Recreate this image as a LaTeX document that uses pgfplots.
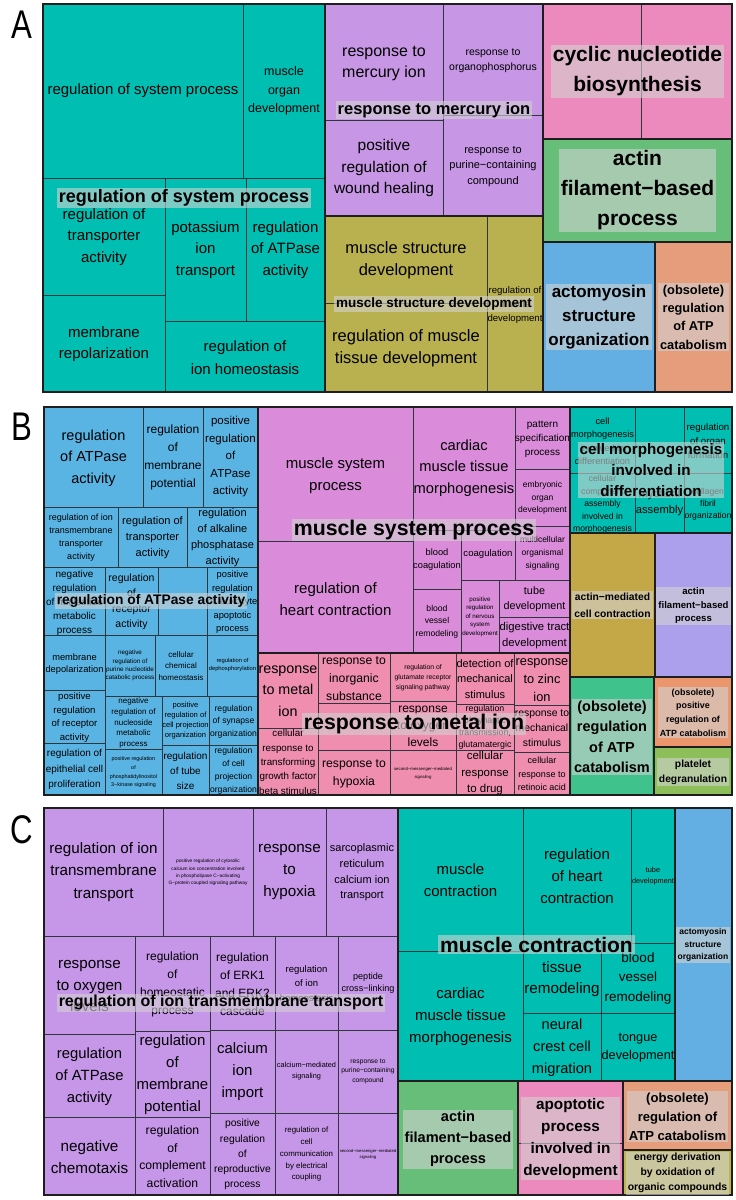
\documentclass[border=0pt]{standalone}
\usepackage{fontspec}
\setmainfont{Liberation Sans}
\usepackage{pgfplots}
\pgfplotsset{compat=1.18}
\definecolor{tA}{RGB}{0,191,178}
\definecolor{pA}{RGB}{199,151,230}
\definecolor{oA}{RGB}{185,176,80}
\definecolor{kA}{RGB}{237,138,189}
\definecolor{gA}{RGB}{102,190,120}
\definecolor{bA}{RGB}{99,175,227}
\definecolor{sA}{RGB}{229,157,124}
\definecolor{bB}{RGB}{90,180,227}
\definecolor{orB}{RGB}{218,140,218}
\definecolor{kB}{RGB}{239,142,174}
\definecolor{goB}{RGB}{196,168,72}
\definecolor{lvB}{RGB}{172,160,236}
\definecolor{gB}{RGB}{64,194,140}
\definecolor{sB}{RGB}{236,150,110}
\definecolor{lgB}{RGB}{140,190,90}
\definecolor{pC}{RGB}{198,150,232}
\definecolor{oC}{RGB}{190,180,80}
\definecolor{cellline}{RGB}{45,55,60}
\definecolor{grpline}{RGB}{30,30,30}
\definecolor{lblbg}{RGB}{210,210,210}
\newcommand{\cellR}[5]{\addplot[mark=none, fill=#5, draw=cellline, line width=0.6pt] coordinates {(#1,#2) (#3,#2) (#3,#4) (#1,#4) (#1,#2)};}
\newcommand{\cellT}[5]{\node[align=center, inner sep=0pt, text=black, font=\fontsize{#3}{#4}\selectfont] at (axis cs:#1,#2) {#5};}
\newcommand{\grpB}[4]{\addplot[mark=none, draw=grpline, line width=1.5pt, line cap=rect] coordinates {(#1,#2) (#3,#2) (#3,#4) (#1,#4) (#1,#2)};}
\newcommand{\grpL}[5]{\node[align=center, fill=lblbg, fill opacity=0.6, text opacity=1, text=black, inner xsep=2pt, inner ysep=1.5pt, font=\bfseries\fontsize{#3}{#4}\selectfont] at (axis cs:#1,#2) {#5};}
\begin{document}
\begin{tikzpicture}
\begin{axis}[scale only axis, width=736pt, height=1200pt, xmin=0, xmax=736, ymin=0, ymax=1200, y dir=reverse, hide axis, clip=false]
\addplot[mark=none, fill=white, draw=none] coordinates {(0,0) (736,0) (736,1200) (0,1200) (0,0)};
% ---------------- Panel A ----------------
\cellR{43}{4}{243}{178}{tA}
\cellR{243}{4}{325}{178}{tA}
\cellR{43}{178}{165}{295}{tA}
\cellR{43}{295}{165}{392}{tA}
\cellR{165}{178}{246}{321}{tA}
\cellR{246}{178}{325}{321}{tA}
\cellR{165}{321}{325}{392}{tA}
\cellR{325}{4}{443}{120}{pA}
\cellR{325}{120}{443}{216}{pA}
\cellR{443}{4}{543}{115}{pA}
\cellR{443}{115}{543}{216}{pA}
\cellR{325}{216}{487}{303}{oA}
\cellR{325}{303}{487}{392}{oA}
\cellR{487}{216}{543}{392}{oA}
\cellR{543}{4}{641}{139}{kA}
\cellR{641}{4}{732}{139}{kA}
\cellR{543}{139}{732}{242}{gA}
\cellR{543}{242}{655}{392}{bA}
\cellR{655}{242}{732}{392}{sA}
\cellT{143}{91}{15}{21.5}{regulation of system process}
\cellT{284}{91}{12.5}{18.5}{muscle\\organ\\development}
\cellT{104}{237}{15}{21.7}{regulation of\\transporter\\activity}
\cellT{104}{344}{15}{21.7}{membrane\\repolarization}
\cellT{205.5}{250}{15}{21.7}{potassium\\ion\\transport}
\cellT{285.5}{250}{15}{21.7}{regulation\\of ATPase\\activity}
\cellT{245}{357.5}{15}{23}{regulation of\\ion homeostasis}
\cellT{384}{63}{16}{21}{response to\\mercury ion}
\cellT{384}{168}{15.5}{21.7}{positive\\regulation of\\wound healing}
\cellT{493}{60.5}{10.5}{15}{response to\\organophosphorus}
\cellT{493}{166.5}{11}{15.5}{response to\\purine−containing\\compound}
\cellT{406}{260.5}{16.5}{22}{muscle structure\\development}
\cellT{406}{348.5}{16.5}{22}{regulation of muscle\\tissue development}
\cellT{515}{305}{9.6}{14}{regulation of\\muscle\\development}
\grpB{43}{4}{325}{392}
\grpB{325}{4}{543}{216}
\grpB{325}{216}{543}{392}
\grpB{543}{4}{732}{139}
\grpB{543}{139}{732}{242}
\grpB{543}{242}{655}{392}
\grpB{655}{242}{732}{392}
\grpL{184}{198}{18}{22}{regulation of system process}
\grpL{434}{110}{16.5}{20}{response to mercury ion}
\grpL{434}{304}{13.5}{16}{muscle structure development}
\grpL{637.5}{71.5}{21}{30}{cyclic nucleotide\\biosynthesis}
\grpL{637.5}{190.5}{21}{30}{actin\\filament−based\\process}
\grpL{599}{317}{17}{24}{actomyosin\\structure\\organization}
\grpL{693.5}{317}{12.8}{18.3}{(obsolete)\\regulation\\of ATP\\catabolism}
% ---------------- Panel B ----------------
\cellR{44}{407}{143}{507}{bB}
\cellR{143}{407}{203}{507}{bB}
\cellR{203}{407}{258}{507}{bB}
\cellR{44}{507}{118}{567}{bB}
\cellR{118}{507}{187}{567}{bB}
\cellR{187}{507}{258}{567}{bB}
\cellR{44}{567}{105}{635}{bB}
\cellR{105}{567}{158}{635}{bB}
\cellR{158}{567}{207}{635}{bB}
\cellR{207}{567}{258}{635}{bB}
\cellR{44}{635}{105}{690}{bB}
\cellR{105}{635}{155}{696}{bB}
\cellR{155}{635}{207}{696}{bB}
\cellR{207}{635}{258}{696}{bB}
\cellR{44}{690}{105}{743}{bB}
\cellR{44}{743}{105}{795}{bB}
\cellR{105}{696}{162}{749}{bB}
\cellR{105}{749}{162}{795}{bB}
\cellR{162}{696}{209}{745}{bB}
\cellR{162}{745}{209}{795}{bB}
\cellR{209}{696}{258}{745}{bB}
\cellR{209}{745}{258}{795}{bB}
\cellT{93.5}{458}{14.5}{21.7}{regulation\\of ATPase\\activity}
\cellT{173}{457.5}{12}{18}{regulation\\of\\membrane\\potential}
\cellT{230.5}{457}{11.5}{17.5}{positive\\regulation\\of\\ATPase\\activity}
\cellT{81}{538}{9}{13}{regulation of ion\\transmembrane\\transporter\\activity}
\cellT{152.5}{537.5}{11}{16}{regulation of\\transporter\\activity}
\cellT{222.5}{538}{11}{16}{regulation\\of alkaline\\phosphatase\\activity}
\cellT{74.5}{603}{10}{14}{negative\\regulation\\of nucleotide\\metabolic\\process}
\cellT{131.5}{602}{10.5}{15.5}{regulation\\of\\receptor\\activity}
\cellT{232.5}{602.5}{9.3}{13.5}{positive\\regulation\\of leukocyte\\apoptotic\\process}
\cellT{74.5}{664}{9.3}{12}{membrane\\depolarization}
\cellT{130}{665.5}{6.3}{8.1}{negative\\regulation of\\purine nucleotide\\catabolic process}
\cellT{181}{666}{8}{11.7}{cellular\\chemical\\homeostasis}
\cellT{232.5}{665}{5.8}{8}{regulation of\\dephosphorylation}
\cellT{74.5}{717.5}{9.6}{13.6}{positive\\regulation\\of receptor\\activity}
\cellT{74.5}{769.5}{10}{15.8}{regulation of\\epithelial cell\\proliferation}
\cellT{133.5}{723}{8}{10.9}{negative\\regulation of\\nucleoside\\metabolic\\process}
\cellT{133.5}{772.5}{5.4}{8.7}{positive regulation\\of\\phosphatidylinositol\\3−kinase signaling}
\cellT{185.5}{721}{7.6}{10}{positive\\regulation of\\cell projection\\organization}
\cellT{185.5}{771}{10}{15}{regulation\\of tube\\size}
\cellT{233.5}{721.5}{8.6}{12.5}{regulation\\of synapse\\organization}
\cellT{233.5}{771}{8.6}{12.9}{regulation\\of cell\\projection\\organization}
% orchid group
\cellR{258}{407}{413}{541}{orB}
\cellR{258}{541}{413}{653}{orB}
\cellR{413}{407}{515}{530}{orB}
\cellR{515}{407}{570}{469}{orB}
\cellR{515}{469}{570}{526}{orB}
\cellR{515}{526}{570}{580}{orB}
\cellR{461}{530}{515}{580}{orB}
\cellR{413}{530}{461}{589}{orB}
\cellR{413}{589}{461}{653}{orB}
\cellR{461}{580}{499}{653}{orB}
\cellR{499}{580}{570}{617}{orB}
\cellR{499}{617}{570}{653}{orB}
\cellT{335.5}{475.5}{15}{21.7}{muscle system\\process}
\cellT{335.5}{599}{15}{21.7}{regulation of\\heart contraction}
\cellT{464}{468}{14.7}{21.3}{cardiac\\muscle tissue\\morphogenesis}
\cellT{542.5}{439.5}{10}{14}{pattern\\specification\\process}
\cellT{542.5}{498}{8.5}{12.5}{embryonic\\organ\\development}
\cellT{542.5}{553.3}{8.5}{13}{multicellular\\organismal\\signaling}
\cellT{488}{554.5}{9.6}{12}{coagulation}
\cellT{437}{559.5}{9.3}{12.7}{blood\\coagulation}
\cellT{437}{621.5}{8.6}{12.3}{blood\\vessel\\remodeling}
\cellT{480}{616.5}{6.2}{8.5}{positive\\regulation\\of nervous\\system\\development}
\cellT{534.5}{598.8}{10.8}{15}{tube\\development}
\cellT{534.5}{635.5}{11.3}{15.7}{digestive tract\\development}
% pink group
\cellR{258}{653}{318}{728}{kB}
\cellR{258}{728}{318}{795}{kB}
\cellR{318}{653}{390}{703}{kB}
\cellR{318}{703}{390}{750}{kB}
\cellR{318}{750}{390}{795}{kB}
\cellR{390}{653}{456}{701}{kB}
\cellR{390}{701}{456}{750}{kB}
\cellR{390}{750}{456}{795}{kB}
\cellR{456}{653}{514}{704}{kB}
\cellR{456}{704}{514}{750}{kB}
\cellR{456}{750}{514}{795}{kB}
\cellR{514}{653}{570}{705}{kB}
\cellR{514}{705}{570}{752}{kB}
\cellR{514}{752}{570}{795}{kB}
\cellT{288}{691}{14.3}{21.3}{response\\to metal\\ion}
\cellT{288}{762}{9.8}{14.4}{cellular\\response to\\transforming\\growth factor\\beta stimulus}
\cellT{354}{678.5}{12.2}{17.8}{response to\\inorganic\\substance}
\cellT{354}{773.5}{12.2}{18.3}{response to\\hypoxia}
\cellT{423}{677.7}{6.8}{10}{regulation of\\glutamate receptor\\signaling pathway}
\cellT{423}{726}{12}{17}{response\\to oxygen\\levels}
\cellT{423}{773.3}{4.3}{8}{second−messenger−mediated\\signaling}
\cellT{485}{679}{11}{15.8}{detection of\\mechanical\\stimulus}
\cellT{485}{727.5}{8.8}{12.1}{regulation\\of synaptic\\transmission,\\glutamatergic}
\cellT{485}{773.3}{11.5}{16.7}{cellular\\response\\to drug}
\cellT{542}{680}{12.8}{18.3}{response\\to zinc\\ion}
\cellT{542}{728.3}{10.4}{15}{response to\\mechanical\\stimulus}
\cellT{542}{774}{9}{13.5}{cellular\\response to\\retinoic acid}
% teal group B
\cellR{570}{407}{635}{473}{tA}
\cellR{635}{407}{684}{473}{tA}
\cellR{684}{407}{732}{473}{tA}
\cellR{570}{473}{635}{533}{tA}
\cellR{635}{473}{684}{533}{tA}
\cellR{684}{473}{732}{533}{tA}
\cellT{602.5}{441}{9.2}{13.5}{cell\\morphogenesis\\involved in\\differentiation}
\cellT{708}{441}{9.7}{14}{regulation\\of organ\\formation}
\cellT{602.5}{504.5}{8.6}{12.5}{cellular\\component\\assembly\\involved in\\morphogenesis}
\cellT{659.5}{503}{11.2}{16}{myofibril\\assembly}
\cellT{708}{504.3}{8.6}{12}{collagen\\fibril\\organization}
% single-cell groups B
\cellR{570}{533}{655}{677}{goB}
\cellR{655}{533}{732}{677}{lvB}
\cellR{570}{677}{654}{795}{gB}
\cellR{654}{677}{732}{747}{sB}
\cellR{654}{747}{732}{795}{lgB}
\grpB{44}{407}{258}{795}
\grpB{258}{407}{570}{653}
\grpB{258}{653}{570}{795}
\grpB{570}{407}{732}{533}
\grpB{570}{533}{655}{677}
\grpB{655}{533}{732}{677}
\grpB{570}{677}{654}{795}
\grpB{654}{677}{732}{747}
\grpB{654}{747}{732}{795}
\grpL{151}{601}{13.8}{16}{regulation of ATPase activity}
\grpL{414}{530}{21.3}{24}{muscle system process}
\grpL{414}{724}{21.3}{24}{response to metal ion}
\grpL{651}{470}{15.2}{21.3}{cell morphogenesis\\involved in\\differentiation}
\grpL{612.5}{605}{10.3}{16.7}{actin−mediated\\cell contraction}
\grpL{693.5}{606}{9.6}{13.5}{actin\\filament−based\\process}
\grpL{612}{737}{14.5}{20.5}{(obsolete)\\regulation\\of ATP\\catabolism}
\grpL{693}{712.5}{8.9}{13.6}{(obsolete)\\positive\\regulation of\\ATP catabolism}
\grpL{693}{772}{10.3}{15.3}{platelet\\degranulation}
% ---------------- Panel C ----------------
\cellR{44}{808}{163}{936}{pC}
\cellR{163}{808}{253}{936}{pC}
\cellR{253}{808}{326}{936}{pC}
\cellR{326}{808}{398}{936}{pC}
\cellR{44}{936}{135}{1034}{pC}
\cellR{135}{936}{210}{1031}{pC}
\cellR{210}{936}{275}{1030}{pC}
\cellR{275}{936}{338}{1030}{pC}
\cellR{338}{936}{398}{1030}{pC}
\cellR{44}{1034}{135}{1117}{pC}
\cellR{135}{1031}{210}{1117}{pC}
\cellR{210}{1030}{275}{1113}{pC}
\cellR{275}{1030}{338}{1113}{pC}
\cellR{338}{1030}{398}{1113}{pC}
\cellR{44}{1117}{135}{1195}{pC}
\cellR{135}{1117}{210}{1195}{pC}
\cellR{210}{1113}{275}{1195}{pC}
\cellR{275}{1113}{338}{1195}{pC}
\cellR{338}{1113}{398}{1195}{pC}
\cellT{103.5}{872}{15.2}{22.2}{regulation of ion\\transmembrane\\transport}
\cellT{208}{872.5}{4.8}{7.2}{positive regulation of cytosolic\\calcium ion concentration involved\\in phospholipase C−activating\\G−protein coupled signaling pathway}
\cellT{289.5}{872}{15.2}{21.8}{response\\to\\hypoxia}
\cellT{362}{872.5}{11}{15.7}{sarcoplasmic\\reticulum\\calcium ion\\transport}
\cellT{89.5}{986}{15.2}{21.7}{response\\to oxygen\\levels}
\cellT{172.5}{984.5}{12}{18}{regulation\\of\\homeostatic\\process}
\cellT{242.5}{984}{12}{18}{regulation\\of ERK1\\and ERK2\\cascade}
\cellT{306.5}{983.3}{9.5}{14.3}{regulation\\of ion\\homeostasis}
\cellT{368}{983}{9.1}{12.7}{peptide\\cross−linking}
\cellT{89.5}{1076.3}{14.8}{22}{regulation\\of ATPase\\activity}
\cellT{172.5}{1074.7}{15}{22.1}{regulation\\of\\membrane\\potential}
\cellT{242.5}{1071.7}{15}{21.7}{calcium\\ion\\import}
\cellT{306.5}{1071.3}{7.3}{10.7}{calcium−mediated\\signaling}
\cellT{368}{1071.5}{6.7}{9.7}{response to\\purine−containing\\compound}
\cellT{89.5}{1156.8}{15.3}{21.7}{negative\\chemotaxis}
\cellT{172.5}{1156.7}{12.2}{17.7}{regulation\\of\\complement\\activation}
\cellT{242.5}{1154.7}{10.3}{15.2}{positive\\regulation\\of\\reproductive\\process}
\cellT{306.5}{1154.3}{7.9}{11.7}{regulation of\\cell\\communication\\by electrical\\coupling}
\cellT{368}{1154.3}{4.2}{6.7}{second−messenger−mediated\\signaling}
% teal C
\cellR{398}{808}{523}{951}{tA}
\cellR{523}{808}{631}{943}{tA}
\cellR{631}{808}{675}{943}{tA}
\cellR{398}{951}{523}{1081}{tA}
\cellR{523}{943}{601}{1013}{tA}
\cellR{601}{943}{675}{1013}{tA}
\cellR{523}{1013}{601}{1081}{tA}
\cellR{601}{1013}{675}{1081}{tA}
\cellT{460.5}{880}{15}{22}{muscle\\contraction}
\cellT{577}{876}{15}{22}{regulation\\of heart\\contraction}
\cellT{653}{876}{7.3}{11}{tube\\development}
\cellT{460.5}{1017}{15}{22}{cardiac\\muscle tissue\\morphogenesis}
\cellT{562}{979}{15.2}{21.7}{tissue\\remodeling}
\cellT{638}{978.3}{13.5}{19.3}{blood\\vessel\\remodeling}
\cellT{562}{1047.8}{14.6}{22.2}{neural\\crest cell\\migration}
\cellT{638}{1047.5}{12.7}{18.3}{tongue\\development}
\cellR{675}{808}{732}{1081}{bA}
\cellR{398}{1081}{518}{1195}{gA}
\cellR{518}{1081}{623}{1143}{kA}
\cellR{518}{1143}{623}{1195}{kA}
\cellR{623}{1081}{732}{1150}{sA}
\cellR{623}{1150}{732}{1195}{oC}
\grpB{44}{808}{398}{1195}
\grpB{398}{808}{675}{1081}
\grpB{675}{808}{732}{1081}
\grpB{398}{1081}{518}{1195}
\grpB{518}{1081}{623}{1195}
\grpB{623}{1081}{732}{1150}
\grpB{623}{1150}{732}{1195}
\grpL{221}{1002.5}{16}{20}{regulation of ion transmembrane transport}
\grpL{536.5}{944.5}{21}{24}{muscle contraction}
\grpL{703}{945}{8.5}{12.3}{actomyosin\\structure\\organization}
\grpL{458}{1139}{14.6}{21.2}{actin\\filament−based\\process}
\grpL{570.5}{1138.7}{15.3}{21.9}{apoptotic\\process\\involved in\\development}
\grpL{677.5}{1116.5}{13.1}{19}{(obsolete)\\regulation of\\ATP catabolism}
\grpL{677.5}{1173.3}{10.4}{15}{energy derivation\\by oxidation of\\organic compounds}
% panel letters
\node[font=\fontsize{40}{40}\selectfont, inner sep=0pt] at (axis cs:22,25) {\scalebox{0.78}[1]{A}};
\node[font=\fontsize{40}{40}\selectfont, inner sep=0pt] at (axis cs:22,427) {\scalebox{0.78}[1]{B}};
\node[font=\fontsize{40}{40}\selectfont, inner sep=0pt] at (axis cs:22,830) {\scalebox{0.78}[1]{C}};
\end{axis}
\end{tikzpicture}
\end{document}
